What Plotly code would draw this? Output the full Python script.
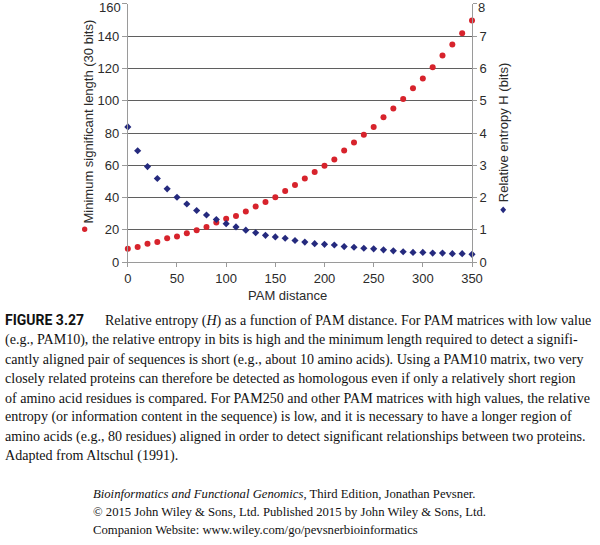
import plotly.graph_objects as go

# ---------------- data ----------------
pam_distance = [0, 10, 20, 30, 40, 50, 60, 70, 80, 90, 100, 110, 120, 130, 140, 150, 160, 170,
                180, 190, 200, 210, 220, 230, 240, 250, 260, 270, 280, 290, 300, 310, 320, 330, 340, 350]
min_sig_length = [8.3, 9.3, 11.4, 12.4, 14.8, 15.8, 17.8, 19.7, 21.7, 24.5, 26.8, 28.6, 31.4, 34.5,
                  37.3, 40.2, 44.0, 47.8, 51.8, 55.9, 59.7, 63.6, 69.1, 74.1, 79.0, 83.8, 89.7, 95.2,
                  101.1, 107.7, 113.8, 120.7, 128.0, 134.9, 141.8, 149.8]
rel_entropy = [4.19, 3.45, 2.96, 2.59, 2.27, 2.01, 1.80, 1.60, 1.46, 1.32, 1.19, 1.09, 0.99, 0.91,
               0.83, 0.78, 0.74, 0.67, 0.62, 0.57, 0.55, 0.53, 0.48, 0.46, 0.43, 0.41, 0.38, 0.35,
               0.32, 0.30, 0.30, 0.28, 0.28, 0.26, 0.26, 0.24]

x_ticks = [0, 50, 100, 150, 200, 250, 300, 350]
left_ticks = [0, 20, 40, 60, 80, 100, 120, 140, 160]
right_ticks = [0, 1, 2, 3, 4, 5, 6, 7, 8]

left_title = "Minimum significant length (30 bits)"
right_title = "Relative entropy H (bits)"
x_title = "PAM distance"

caption_head = "FIGURE 3.27"
caption_lines = [
    "Relative entropy (<i>H</i>) as a function of PAM distance. For PAM matrices with low value",
    "(e.g., PAM10), the relative entropy in bits is high and the minimum length required to detect a signifi-",
    "cantly aligned pair of sequences is short (e.g., about 10 amino acids). Using a PAM10 matrix, two very",
    "closely related proteins can therefore be detected as homologous even if only a relatively short region",
    "of amino acid residues is compared. For PAM250 and other PAM matrices with high values, the relative",
    "entropy (or information content in the sequence) is low, and it is necessary to have a longer region of",
    "amino acids (e.g., 80 residues) aligned in order to detect significant relationships between two proteins.",
    "Adapted from Altschul (1991).",
]
citation_lines = [
    "<i>Bioinformatics and Functional Genomics</i>, Third Edition, Jonathan Pevsner.",
    "© 2015 John Wiley &amp; Sons, Ltd. Published 2015 by John Wiley &amp; Sons, Ltd.",
    "Companion Website: www.wiley.com/go/pevsnerbioinformatics",
]

# ---------------- geometry helpers ----------------
W, H = 600, 545
def px(x):
    return x / W
def py(y):
    return 1 - y / H

RED = "#d7232c"
BLUE = "#252a7e"
TXT = "#2b2b2b"
SANS = "Liberation Sans, Arial, sans-serif"
SERIF = "Liberation Serif, Times New Roman, serif"

fig = go.Figure()
fig.add_trace(go.Scatter(
    x=pam_distance, y=min_sig_length, mode="markers",
    marker=dict(symbol="circle", size=6, color=RED),
    yaxis="y", showlegend=False, cliponaxis=False))
fig.add_trace(go.Scatter(
    x=pam_distance, y=rel_entropy, mode="markers",
    marker=dict(symbol="diamond", size=5.5, color=BLUE),
    yaxis="y2", showlegend=False, cliponaxis=False))

tickfont = dict(family=SANS, size=13, color=TXT)
fig.update_layout(
    width=W, height=H,
    margin=dict(l=0, r=0, t=0, b=0),
    paper_bgcolor="white", plot_bgcolor="white",
    xaxis=dict(domain=[px(127), px(480)], range=[0, 350], tickvals=x_ticks,
               showgrid=False, zeroline=False, showline=True, linecolor="#9a9a9a", linewidth=1,
               ticks="outside", ticklen=4, tickcolor="#9a9a9a", tickfont=tickfont),
    yaxis=dict(domain=[py(266), py(4)], range=[0, 160], tickvals=left_ticks,
               showgrid=True, gridcolor="#5f5f5f", gridwidth=1, zeroline=False,
               showline=True, linecolor="#9a9a9a", linewidth=1,
               ticks="outside", ticklen=5, tickcolor="#9a9a9a", tickfont=tickfont),
    yaxis2=dict(overlaying="y", side="right", anchor="x", range=[0, 8], tickvals=right_ticks,
                showgrid=False, zeroline=False, showline=True, linecolor="#9a9a9a", linewidth=1,
                ticks="outside", ticklen=4, tickcolor="#9a9a9a", tickfont=tickfont),
)

ann = []
# top tick labels (Plotly drops these because they touch the figure edge)
ann.append(dict(text=str(left_ticks[-1]), x=px(121.5), y=py(7.5), xref="paper", yref="paper",
                showarrow=False, xanchor="right", yanchor="middle", borderpad=0, font=tickfont))
ann.append(dict(text=str(right_ticks[-1]), x=px(485), y=py(7.5), xref="paper", yref="paper",
                showarrow=False, xanchor="left", yanchor="middle", borderpad=0, font=tickfont))
# axis titles
ann.append(dict(text=left_title, x=px(87), y=py(123.5), xref="paper", yref="paper",
                textangle=-90, showarrow=False, xanchor="center", yanchor="middle",
                font=dict(family=SANS, size=13, color=TXT)))
ann.append(dict(text=right_title, x=px(512), y=py(135), xref="paper", yref="paper",
                textangle=-90, showarrow=False, xanchor="center", yanchor="middle",
                font=dict(family=SANS, size=13, color=TXT)))
ann.append(dict(text=x_title, x=px(291), y=py(300), xref="paper", yref="paper",
                showarrow=False, xanchor="center", yanchor="middle",
                font=dict(family=SANS, size=13, color=TXT)))

# caption
cap_y = [325, 345, 364.5, 384, 403.5, 423, 442.5, 462]
ann.append(dict(text="<b>" + caption_head + "</b>", x=px(0), y=py(cap_y[0]), xref="paper", yref="paper",
                showarrow=False, xanchor="left", yanchor="middle", borderpad=0,
                font=dict(family="Roboto, sans-serif", size=14, color="#111")))
for i, line in enumerate(caption_lines):
    ann.append(dict(text=line, x=px(103 if i == 0 else 0), y=py(cap_y[i]), xref="paper", yref="paper",
                    showarrow=False, xanchor="left", yanchor="middle", borderpad=0,
                    font=dict(family=SERIF, size=14.05, color="#111")))

cit_y = [501.5, 519.5, 537.5]
for i, line in enumerate(citation_lines):
    ann.append(dict(text=line, x=px(90), y=py(cit_y[i]), xref="paper", yref="paper",
                    showarrow=False, xanchor="left", yanchor="middle", borderpad=0,
                    font=dict(family=SERIF, size=12.7, color="#111")))

fig.update_layout(annotations=ann)

# legend-style markers next to the axis titles
fig.add_shape(type="circle", xref="paper", yref="paper",
              x0=px(80), x1=px(85.5), y0=py(235.5), y1=py(230),
              fillcolor=RED, line=dict(width=0))
fig.add_shape(type="path", xref="paper", yref="paper",
              path=f"M {px(512)} {py(209.5)} L {px(515)} {py(213)} L {px(512)} {py(216.5)} L {px(509)} {py(213)} Z",
              fillcolor=BLUE, line=dict(width=0))

fig.write_html("out.html", config={"displayModeBar": False},
               post_script="document.body.style.margin='0';")
